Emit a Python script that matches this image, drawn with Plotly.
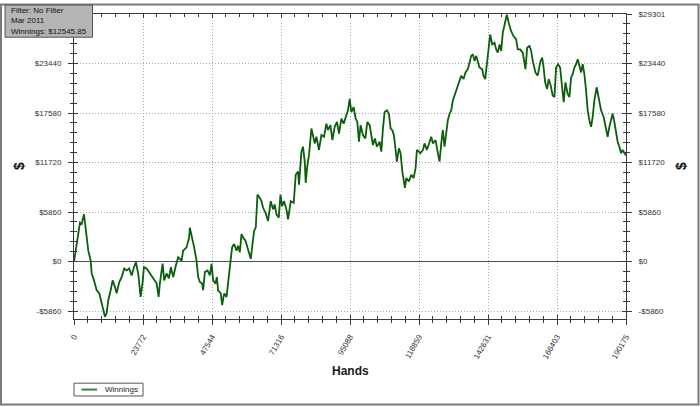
import plotly.graph_objects as go

# ---------------- data ----------------
hands = [0, 688, 1480, 2065, 2650, 3441, 3785, 4370, 4921, 5747, 6091, 6882, 7811, 8706, 9532,
         10082, 10667, 11252, 11803, 12629, 13317, 14108, 14693, 15588, 16414, 17308, 18134, 19029,
         19855, 20646, 21334, 22126, 22952, 23640, 24087, 25016, 26152, 27288, 28458, 29146, 29593,
         30522, 31073, 31899, 32690, 33378, 34170, 35098, 35890, 37060, 37611, 38781, 39676, 39916,
         40708, 41396, 42222, 42773, 43357, 44149, 44493, 45078, 46008, 46800, 47384, 47935, 48761,
         49208, 49655, 50583, 51031, 51719, 52545, 53096, 53680, 54472, 55160, 55986, 56537, 57121,
         57706, 58257, 59083, 59771, 60562, 60906, 61491, 62042, 62626, 63211, 64003, 64588, 65139,
         65965, 66859, 67788, 68579, 69164, 69749, 70541, 71126, 71677, 72365, 73191, 73741, 74670,
         75702, 76390, 77182, 77526, 78352, 78903, 79487, 79831, 80278, 80967, 81793, 82343, 82928,
         83513, 84407, 85233, 86128, 86954, 87505, 88331, 89019, 89810, 90602, 91291, 92116, 92907,
         93837, 94387, 94972, 95557, 96348, 97036, 97621, 98172, 98757, 99549, 100375, 101063,
         101854, 102439, 102990, 103678, 104366, 105295, 105880, 106431, 107016, 107807, 108496,
         109081, 109666, 110217, 110802, 111249, 111937, 112523, 113108, 113555, 114002, 114484,
         115379, 116205, 116996, 117684, 118131, 118820, 119304, 120199, 120784, 121575, 122264,
         123089, 123640, 124569, 125361, 125941, 126526, 127077, 127662, 128247, 128798, 129382,
         129967, 130518, 131447, 132238, 132823, 133408, 134199, 134887, 135679, 136264, 136849,
         137399, 137984, 138569, 139120, 139705, 140634, 141081, 141666, 142217, 142802, 143387,
         144075, 144867, 145452, 146003, 146587, 147172, 147723, 148308, 149100, 149788, 150614,
         151405, 152335, 152885, 153711, 154606, 155535, 156120, 156911, 157496, 158047, 158976,
         159767, 160593, 161281, 161729, 162314, 163002, 163553, 164241, 164929, 165514, 166099,
         166787, 167476, 168164, 168715, 169300, 170091, 170676, 171261, 171812, 172397, 172981,
         173532, 174117, 174702, 175253, 175838, 176423, 176973, 177558, 178143, 178694, 179279,
         180070, 180758, 181584, 182479, 183305, 183856, 184440, 185025, 185576, 186161, 186746,
         187297, 187882, 188467, 189018, 189603, 190175]
winnings = [0, 1676, 3282, 4606, 4454, 5590, 4606, 2461, 1289, 117, -1406, -2227, -3399, -3750,
            -4922, -5743, -6528, -6094, -4571, -3399, -2227, -3012, -3750, -2426, -1840, -820, -1055,
            -820, -1641, -668, -82, -1442, -4184, -2426, -668, -820, -1406, -1992, -2578, -4184,
            -2578, -234, -2227, -1406, -1992, -668, -1840, -469, 504, 117, 1289, 1676, 2848, 4020,
            2848, 1676, 117, -1840, -2426, -2614, -3399, -1254, -1055, -1641, -270, -2227, -2614,
            -1840, -3399, -3786, -5157, -3786, -4184, -2614, -668, 1676, 2074, 1289, 1875, 1090,
            3246, 2848, 2461, 1488, 703, 316, 1875, 3633, 4020, 7934, 7536, 7149, 6364, 5778, 4805,
            7149, 6176, 6762, 5590, 5192, 7934, 6563, 7149, 6176, 5004, 7149, 6950, 10278, 10665,
            9106, 13009, 13595, 11837, 9294, 11052, 12622, 15740, 14767, 13982, 14767, 13208, 14966,
            14767, 16326, 15552, 16138, 14380, 15939, 16525, 15154, 16912, 16326, 17498, 17896,
            19256, 17697, 18283, 16912, 16525, 14181, 16138, 14966, 14568, 16525, 16138, 15154,
            13794, 14568, 13595, 14181, 13009, 15740, 17697, 17896, 17498, 15740, 15552, 14966,
            13009, 11837, 13396, 12810, 10665, 9880, 8708, 9880, 9493, 10278, 9880, 11052, 13208,
            13009, 12810, 13208, 13982, 13208, 13982, 14767, 13982, 14380, 12810, 11837, 13982,
            15552, 13595, 15353, 16724, 17498, 17896, 19068, 20041, 20627, 21412, 21998, 21600,
            22385, 22772, 23557, 24342, 24530, 23756, 24342, 23557, 22971, 22772, 21998, 21600,
            23170, 25315, 26874, 25702, 25901, 25116, 24729, 25702, 24928, 27073, 27858, 29218,
            28245, 27272, 26686, 26288, 25116, 25116, 24729, 22772, 25315, 25515, 24928, 23756,
            22385, 21998, 23557, 24143, 23170, 21213, 20428, 21600, 20826, 19654, 19455, 22971,
            23358, 22971, 20627, 18869, 21213, 19842, 19455, 21799, 22186, 22971, 23358, 23944,
            23170, 22385, 23358, 22186, 20240, 17896, 16724, 15939, 17111, 19068, 20627, 19455,
            17896, 17111, 15552, 14767, 15939, 16724, 17498, 16525, 15154, 14181, 13595, 12810,
            13208, 12810, 12546]

x_tick_vals = [0, 23772, 47544, 71316, 95088, 118859, 142631, 166403, 190175]
x_tick_text = ["0", "23772", "47544", "71316", "95088", "118859", "142631", "166403", "190175"]
y_tick_vals = [-5860, 0, 5860, 11720, 17580, 23440, 29301]
y_tick_text = ["-$5860", "$0", "$5860", "$11720", "$17580", "$23440", "$29301"]
# on the left side the top label sits under the info box, so it is not shown there
y_tick_text_left = ["-$5860", "$0", "$5860", "$11720", "$17580", "$23440", ""]
info_lines = ["Filter: No Filter", "Mar 2011", "Winnings: $12545.85"]
series_name = "Winnings"
x_title = "Hands"
y_title = "$"

X_RANGE = [0, 190175]
Y_RANGE = [-6800, 29301]

# ---------------- layout helpers (pixel -> paper) ----------------
W, H = 700, 407
ML, MR, MT, MB = 74, 74, 10, 88
PW, PH = W - ML - MR, H - MT - MB


def px(x):
    return (x - ML) / PW


def py(y):
    return (H - MB - y) / PH


FONT = "Liberation Sans, Arial, sans-serif"
AX = "#3a3a3a"
LINE_GREEN = "#0b5e0b"
GRID = "#a8a8a8"
GRID_DASH = "1px,2px"

fig = go.Figure()
fig.add_trace(go.Scatter(x=hands, y=winnings, mode="lines", name=series_name,
                         line=dict(color=LINE_GREEN, width=1.8), showlegend=False,
                         hoverinfo="skip"))
# dummy traces to activate overlay axes
fig.add_trace(go.Scatter(x=[None], y=[None], xaxis="x", yaxis="y2", showlegend=False))
fig.add_trace(go.Scatter(x=[None], y=[None], xaxis="x2", yaxis="y3", showlegend=False))
fig.add_trace(go.Scatter(x=[None], y=[None], xaxis="x3", yaxis="y4", showlegend=False))

minor_x = dict(dtick=4754.375, tick0=0, ticklen=3, tickcolor=AX, showgrid=False)
minor_y = dict(dtick=1172.04, tick0=0, ticklen=3, tickcolor=AX, showgrid=False)
tickfont = dict(family=FONT, size=8, color="#333333")

fig.update_layout(
    width=W, height=H,
    margin=dict(l=ML, r=MR, t=MT, b=MB, pad=0),
    paper_bgcolor="white", plot_bgcolor="white",
    showlegend=False,
    xaxis=dict(range=X_RANGE, tickmode="array", tickvals=x_tick_vals, ticktext=x_tick_text,
               tickangle=-60, ticks="outside", ticklen=5, tickcolor=AX, tickfont=tickfont,
               showline=True, linecolor=AX, linewidth=1, showgrid=True, gridcolor=GRID,
               griddash=GRID_DASH, gridwidth=1, zeroline=False,
               minor=dict(ticks="outside", **minor_x), ticklabelstandoff=4),
    xaxis2=dict(range=X_RANGE, overlaying="x", anchor="y3", side="bottom", tickmode="array",
                tickvals=x_tick_vals, ticks="inside", ticklen=4, tickcolor=AX,
                showticklabels=False, showline=False, showgrid=False, zeroline=False,
                minor=dict(ticks="inside", **minor_x)),
    xaxis3=dict(range=X_RANGE, overlaying="x", anchor="y4", side="top", tickmode="array",
                tickvals=x_tick_vals, ticks="inside", ticklen=4, tickcolor=AX,
                showticklabels=False, showline=True, linecolor=AX, showgrid=False,
                zeroline=False, minor=dict(ticks="inside", **minor_x)),
    yaxis=dict(range=Y_RANGE, tickmode="array", tickvals=y_tick_vals, ticktext=y_tick_text_left,
               ticks="outside", ticklen=5, tickcolor=AX, tickfont=tickfont, showline=True,
               linecolor=AX, linewidth=1, showgrid=True, gridcolor=GRID, griddash=GRID_DASH,
               gridwidth=1, zeroline=True, zerolinecolor="#505050", zerolinewidth=1,
               minor=dict(ticks="outside", **minor_y), ticklabelstandoff=5),
    yaxis2=dict(range=Y_RANGE, overlaying="y", anchor="x", side="right", tickmode="array",
                tickvals=y_tick_vals, ticktext=y_tick_text, ticks="outside", ticklen=5,
                tickcolor=AX, tickfont=tickfont, showline=True, linecolor=AX, showgrid=False,
                zeroline=False, minor=dict(ticks="outside", **minor_y), ticklabelstandoff=5),
    yaxis3=dict(range=Y_RANGE, overlaying="y", anchor="x2", side="left", tickmode="array",
                tickvals=y_tick_vals, ticks="inside", ticklen=4, tickcolor=AX,
                showticklabels=False, showline=False, showgrid=False, zeroline=False,
                minor=dict(ticks="inside", **minor_y)),
    yaxis4=dict(range=Y_RANGE, overlaying="y", anchor="x3", side="right", tickmode="array",
                tickvals=y_tick_vals, ticks="inside", ticklen=4, tickcolor=AX,
                showticklabels=False, showline=False, showgrid=False, zeroline=False,
                minor=dict(ticks="inside", **minor_y)),
)

shapes = []
# outer frame
shapes.append(dict(type="rect", xref="paper", yref="paper", x0=px(1), x1=px(698.5),
                   y0=py(405.5), y1=py(0.5), line=dict(color="#7a7a7a", width=2),
                   fillcolor="rgba(0,0,0,0)", layer="above"))
# info box
shapes.append(dict(type="rect", xref="paper", yref="paper", x0=px(5), x1=px(92.5),
                   y0=py(33.5), y1=py(1), line=dict(color="#555555", width=1),
                   fillcolor="#b5b5b5", layer="above"))
# legend box
shapes.append(dict(type="rect", xref="paper", yref="paper", x0=px(74), x1=px(143),
                   y0=py(397), y1=py(384), line=dict(color="#555555", width=1),
                   fillcolor="white", layer="above"))
shapes.append(dict(type="line", xref="paper", yref="paper", x0=px(81.5), x1=px(97),
                   y0=py(390.5), y1=py(390.5), line=dict(color="#3d7f3d", width=2),
                   layer="above"))
fig.update_layout(shapes=shapes)

ann = []
ann.append(dict(text="<br>".join(info_lines), xref="paper", yref="paper", x=px(8.5), y=py(17),
                xanchor="left", yanchor="middle", align="left", showarrow=False,
                font=dict(family=FONT, size=8, color="#111111")))
ann.append(dict(text=series_name, xref="paper", yref="paper", x=px(103), y=py(390.5),
                xanchor="left", yanchor="middle", showarrow=False,
                font=dict(family=FONT, size=8, color="#222222")))
ann.append(dict(text="<b>" + x_title + "</b>", xref="paper", yref="paper", x=px(350), y=py(372),
                xanchor="center", yanchor="middle", showarrow=False,
                font=dict(family=FONT, size=12, color="#1a1a1a")))
for xx in (19, 681):
    ann.append(dict(text="<b>" + y_title + "</b>", xref="paper", yref="paper", x=px(xx),
                    y=py(164), xanchor="center", yanchor="middle", showarrow=False,
                    textangle=-90, font=dict(family=FONT, size=14, color="#111111")))
fig.update_layout(annotations=ann)

fig.write_html("out.html",
               config={"displayModeBar": False, "staticPlot": True},
               post_script="document.body.style.margin='0';document.body.style.padding='0';"
                           "document.body.style.overflow='hidden';")
